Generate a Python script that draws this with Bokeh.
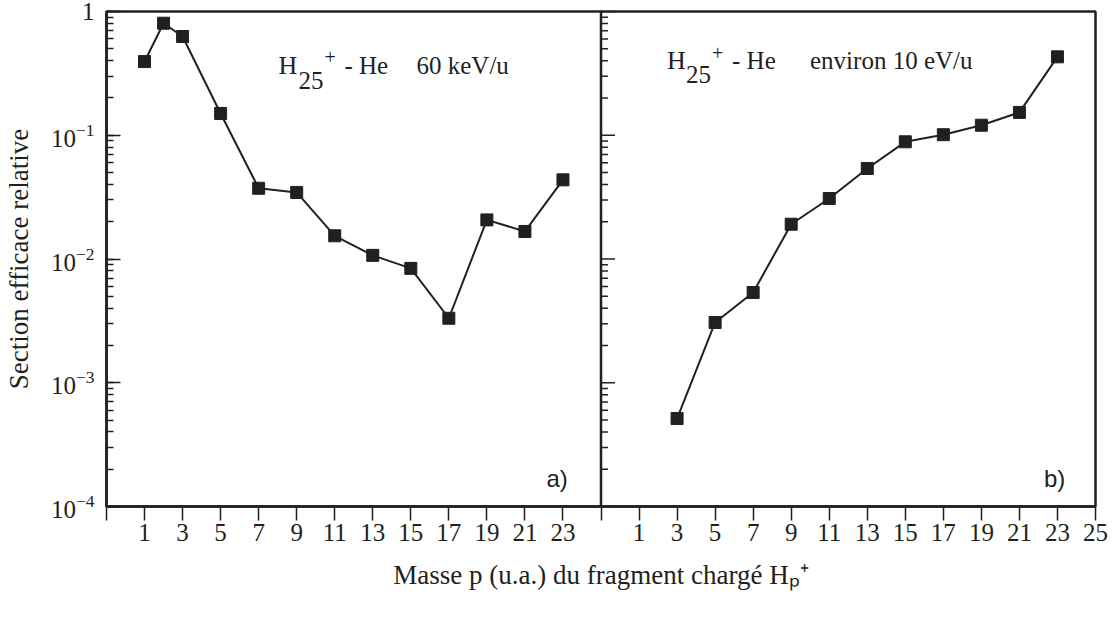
from bokeh.plotting import figure
from bokeh.models import Range1d, FixedTicker, LogTicker, Label, Span, ColumnDataSource
from bokeh.embed import file_html
from bokeh.resources import INLINE

# ---- data ----
masse_a = [1, 2, 3, 5, 7, 9, 11, 13, 15, 17, 19, 21, 23]
section_a = [0.394, 0.804, 0.628, 0.150, 0.0373, 0.0345, 0.0154, 0.0107,
             0.0084, 0.00332, 0.0207, 0.0167, 0.0436]
masse_b = [3, 5, 7, 9, 11, 13, 15, 17, 19, 21, 23]
section_b = [0.000514, 0.00307, 0.00536, 0.0191, 0.0308, 0.0539, 0.0885,
             0.101, 0.1205, 0.153, 0.430]
x_ticks = list(range(-1, 26, 2))
tick_labels_a = [str(v) for v in range(1, 24, 2)]
tick_labels_b = [str(v) for v in range(1, 26, 2)]

SERIF = "Liberation Serif"
SANS = "Liberation Sans"
INK = "#231f20"

x_lo, x_hi = -1, 25
span_x = x_hi - x_lo

p = figure(frame_width=989, frame_height=495,
           x_range=Range1d(x_lo, x_hi + span_x), y_range=Range1d(1e-4, 1),
           y_axis_type="log", output_backend="svg", toolbar_location=None,
           min_border_left=102, min_border_top=19, min_border_right=14,
           min_border_bottom=98, background_fill_color="white",
           border_fill_color="white")
# let the canvas start at the very top of the page so the "1" label has room
p.styles = {"margin-top": "-8px"}
p.extra_x_ranges = {"b": Range1d(x_lo - span_x, x_hi)}
p.xgrid.visible = False
p.ygrid.visible = False
p.outline_line_color = INK
p.outline_line_width = 2.5

# ---- x axis (both panels share one bottom axis) ----
xa = p.xaxis[0]
all_ticks = x_ticks + [t + span_x for t in x_ticks[1:]]
overrides = {t: "" for t in all_ticks}
for t, lab in zip(x_ticks[1:-1], tick_labels_a):
    overrides[t] = lab
for t, lab in zip(x_ticks[1:], tick_labels_b):
    overrides[t + span_x] = lab
xa.ticker = FixedTicker(ticks=all_ticks, minor_ticks=[])
xa.major_label_overrides = overrides
xa.major_tick_in = 0
xa.major_tick_out = 14
xa.major_tick_line_width = 1.5
xa.major_tick_line_color = INK
xa.axis_line_width = 2.5
xa.axis_line_color = INK
xa.major_label_standoff = 3
xa.major_label_text_font = SERIF
xa.major_label_text_font_size = "25px"
xa.major_label_text_color = INK
xa.axis_label = "Masse p (u.a.) du fragment chargé H\u209a\u207a"
xa.axis_label_text_font = SERIF
xa.axis_label_text_font_size = "27px"
xa.axis_label_text_font_style = "normal"
xa.axis_label_text_color = INK
xa.axis_label_standoff = 16

# ---- y axis ----
ya = p.yaxis[0]
ya.ticker = LogTicker(desired_num_ticks=5, num_minor_ticks=10)
ya.major_label_overrides = {1: "1"}
ya.major_tick_in = 14
ya.major_tick_out = 0
ya.minor_tick_in = 7
ya.minor_tick_out = 0
ya.major_tick_line_width = 1.5
ya.minor_tick_line_width = 1.5
ya.major_tick_line_color = INK
ya.minor_tick_line_color = INK
ya.axis_line_width = 2.5
ya.axis_line_color = INK
ya.major_label_standoff = 12
ya.major_label_text_font = SERIF
ya.major_label_text_font_size = "25px"
ya.major_label_text_color = INK
ya.axis_label = "Section efficace relative"
ya.axis_label_text_font = SERIF
ya.axis_label_text_font_size = "27px"
ya.axis_label_text_font_style = "normal"
ya.axis_label_text_color = INK
ya.axis_label_standoff = 14

# ---- divider between panels, with inward ticks of panel b ----
p.add_layout(Span(location=x_hi, dimension="height", line_color=INK, line_width=2.5))
major_y = [10.0 ** e for e in range(-4, 1)]
minor_y = [k * 10.0 ** e for e in range(-4, 0) for k in range(2, 10)]
p.ray(x=[x_hi] * len(major_y), y=major_y, length=14, length_units="screen",
      angle=0, line_color=INK, line_width=1.5)
p.ray(x=[x_hi] * len(minor_y), y=minor_y, length=7, length_units="screen",
      angle=0, line_color=INK, line_width=1.5)

# ---- series ----
src_a = ColumnDataSource(dict(x=masse_a, y=section_a))
src_b = ColumnDataSource(dict(x=masse_b, y=section_b))
p.line("x", "y", source=src_a, line_color=INK, line_width=2)
p.scatter("x", "y", source=src_a, marker="square", size=12,
          fill_color=INK, line_color=INK)
p.line("x", "y", source=src_b, line_color=INK, line_width=2, x_range_name="b")
p.scatter("x", "y", source=src_b, marker="square", size=12,
          fill_color=INK, line_color=INK, x_range_name="b")

# ---- annotations ----
def lab(x, y, text, size, font=SERIF, rng="default"):
    p.add_layout(Label(x=x, y=y, text=text, text_font=font,
                       text_font_size=size, text_color=INK,
                       text_align="left", text_baseline="alphabetic",
                       x_range_name=rng))

# panel a title: H25+ - He   60 keV/u
lab(8.05, 10 ** -0.436, "H", "26px")
lab(9.09, 10 ** -0.558, "25", "25px")
lab(10.46, 10 ** -0.364, "+", "20px")
lab(11.51, 10 ** -0.436, "- He", "25px")
lab(15.30, 10 ** -0.436, "60 keV/u", "25px")
# panel b title: H25+ - He   environ 10 eV/u
lab(2.47, 10 ** -0.396, "H", "26px", rng="b")
lab(3.47, 10 ** -0.509, "25", "25px", rng="b")
lab(4.84, 10 ** -0.339, "+", "20px", rng="b")
lab(5.89, 10 ** -0.396, "- He", "25px", rng="b")
lab(9.99, 10 ** -0.396, "environ 10 eV/u", "25px", rng="b")
# panel tags
lab(22.13, 10 ** -3.774, "a)", "24px", font=SANS)
lab(22.29, 10 ** -3.774, "b)", "24px", font=SANS, rng="b")

open("out.html", "w").write(file_html(p, INLINE))
